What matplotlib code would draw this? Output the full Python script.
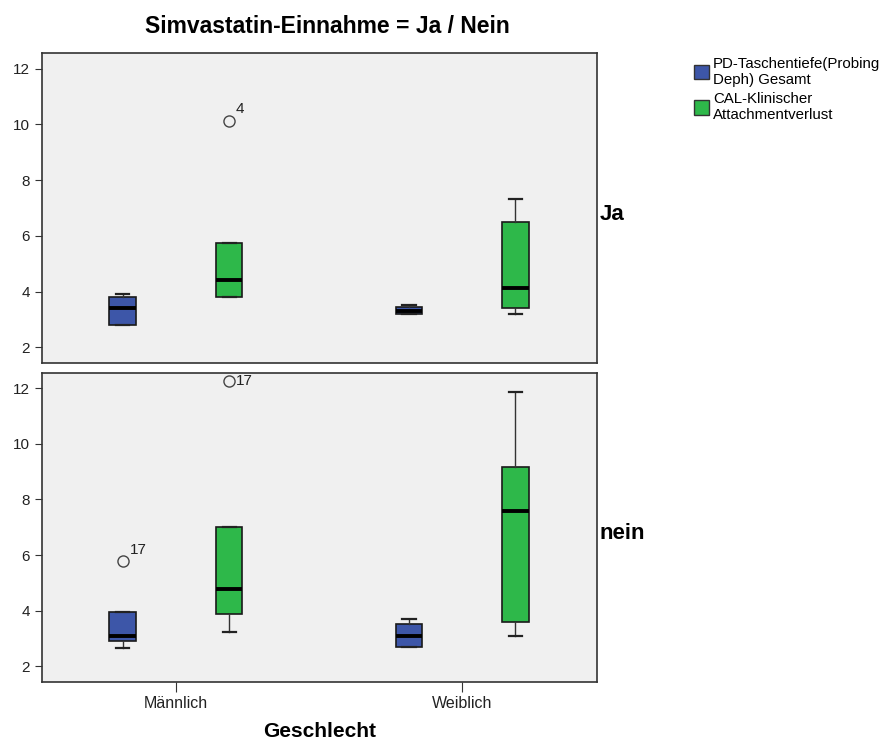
import matplotlib.pyplot as plt
from matplotlib.patches import Patch

plt.rcParams["font.family"] = ["Liberation Sans", "DejaVu Sans"]

groups = ["Männlich", "Weiblich"]
panels = ["Ja", "nein"]
series = ["PD-Taschentiefe(Probing\nDeph) Gesamt", "CAL-Klinischer\nAttachmentverlust"]
colors = ["#3D56A8", "#2EB84A"]

# five-number summaries per group: [whislo, q1, med, q3, whishi]
pd_ja = [[2.80, 2.82, 3.42, 3.82, 3.92], [3.18, 3.19, 3.32, 3.44, 3.52]]
cal_ja = [[3.80, 3.82, 4.40, 5.75, 5.75], [3.18, 3.42, 4.12, 6.49, 7.32]]
pd_nein = [[2.65, 2.90, 3.08, 3.94, 3.95], [2.70, 2.71, 3.08, 3.52, 3.72]]
cal_nein = [[3.25, 3.90, 4.78, 7.02, 7.02], [3.08, 3.60, 7.60, 9.16, 11.85]]

# outliers: (panel, series, group, value, label)
outliers = [
    (0, 1, 0, 10.14, "4"),
    (1, 0, 0, 5.80, "17"),
    (1, 1, 0, 12.26, "17"),
]

panel_data = [[pd_ja, cal_ja], [pd_nein, cal_nein]]
offsets = [-0.186, 0.186]
box_w = 0.093

fig = plt.figure(figsize=(8.9, 7.44), dpi=100)
ax_top = fig.add_axes([0.0472, 0.5125, 0.6235, 0.4158])
ax_bot = fig.add_axes([0.0472, 0.0837, 0.6235, 0.4152])
axes = [ax_top, ax_bot]

for p, ax in enumerate(axes):
    ax.set_facecolor("#F0F0F0")
    for s, data in enumerate(panel_data[p]):
        stats = []
        for vals in data:
            lo, q1, med, q3, hi = vals
            stats.append(dict(whislo=lo, q1=q1, med=med, q3=q3, whishi=hi, fliers=[]))
        pos = [g + offsets[s] for g in range(len(groups))]
        ax.bxp(stats, positions=pos, widths=box_w, patch_artist=True,
               showfliers=False, capwidths=box_w * 0.5,
               boxprops=dict(facecolor=colors[s], edgecolor="#1a1a1a", linewidth=1.2),
               medianprops=dict(color="black", linewidth=2.8),
               whiskerprops=dict(color="#333333", linewidth=1.0),
               capprops=dict(color="#222222", linewidth=1.6))
    for (pi, s, g, v, lab) in outliers:
        if pi != p:
            continue
        x = g + offsets[s]
        ax.plot([x], [v], marker="o", ms=8, mfc="none", mec="#444444", mew=1.0,
                linestyle="none")
        if p == 1 and s == 1:
            ax.annotate(lab, (x, v), xytext=(5, 0), textcoords="offset points",
                        ha="left", va="center", fontsize=11, color="#222222")
        else:
            ax.annotate(lab, (x, v), xytext=(5, 3), textcoords="offset points",
                        ha="left", va="bottom", fontsize=11, color="#222222")

    ax.set_xlim(-0.468, 1.471)
    ax.set_ylim(1.45, 12.55)
    ax.set_yticks([2, 4, 6, 8, 10, 12])
    ax.tick_params(axis="y", direction="out", length=5, labelsize=11,
                   colors="#333333", labelcolor="#222222")
    for sp in ax.spines.values():
        sp.set_color("#333333")
        sp.set_linewidth(1.2)
    ax.text(1.005, 0.48, panels[p], transform=ax.transAxes,
            fontsize=16, fontweight="bold", ha="left", va="center")

ax_top.set_xticks([])
ax_bot.set_xticks(range(len(groups)))
ax_bot.set_xticklabels(groups)
ax_bot.tick_params(axis="x", direction="out", length=7, labelsize=11.5,
                   colors="#333333", labelcolor="#222222")
ax_bot.set_xlabel("Geschlecht", fontsize=15, fontweight="bold", labelpad=8)

fig.text(0.368, 0.965, "Simvastatin-Einnahme = Ja / Nein", fontsize=16.5,
         fontweight="bold", ha="center", va="center")

handles = [Patch(facecolor=c, edgecolor="#333333") for c in colors]
leg = fig.legend(handles, series, loc="upper left", bbox_to_anchor=(0.771, 0.934),
                 frameon=False, fontsize=10.8, handlelength=1.0, handleheight=1.1,
                 handletextpad=0.3, labelspacing=0.35, borderpad=0)
for t in leg.get_texts():
    t.set_linespacing(1.2)

fig.savefig("out.png", dpi=100)
